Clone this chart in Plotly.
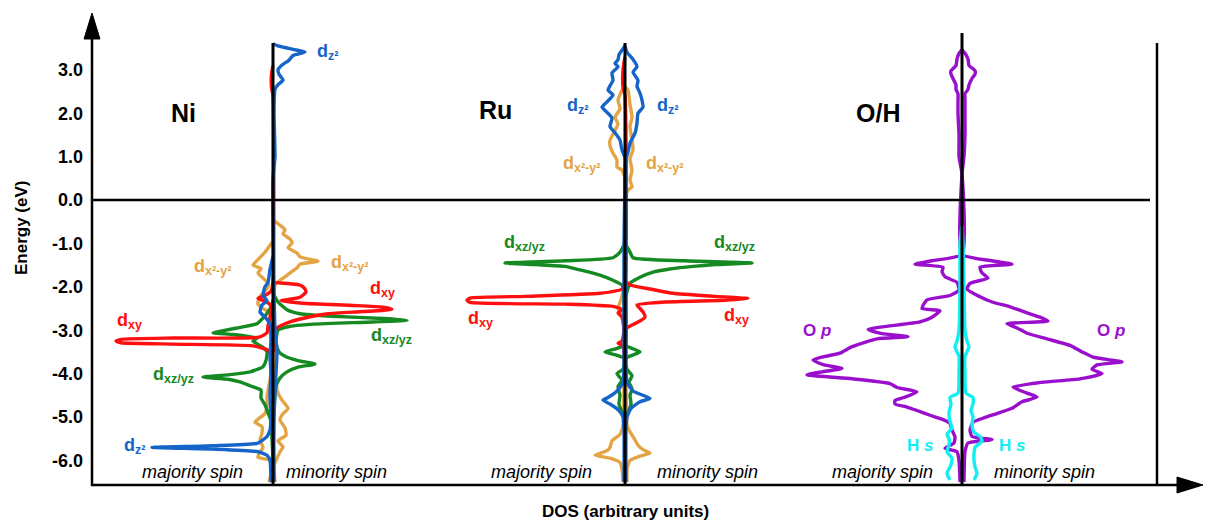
import plotly.graph_objects as go

# ---------------- data (energy in eV, DOS in arbitrary units) ----------------
# Ni d-orbitals
ni_dz2_maj_e = [-1.3, -1.6, -1.9, -2.0, -2.2, -2.32, -2.42, -2.58, -2.7, -2.85, -3.2, -3.6, -4.0, -4.5, -5.0, -5.3, -5.45, -5.6, -5.66, -5.70, -5.74, -5.80, -5.88, -6.0, -6.5]
ni_dz2_maj_d = [0, 3, 5, 8, 10, 6, 11, 13, 8, 3, 2, 3, 2, 3, 2, 3, 6, 15, 60, 121, 60, 15, 6, 3, 2]
ni_dz2_min_e = [3.6, 3.55, 3.47, 3.41, 3.33, 3.22, 3.11, 3.0, 2.9, 2.76, 2.66, 2.55, 2.0, 1.0, 0.5, -2.0, -3.0, -3.5, -4.0, -5.0, -6.5]
ni_dz2_min_d = [0, 5, 20, 32, 20, 16, 9, 5, 6, 10, 5, 2, 1, 2, 0, 1, 2, 4, 3, 1, 1]
ni_dx2_maj_e = [-0.95, -1.2, -1.35, -1.5, -1.58, -1.68, -1.8, -1.95, -2.1, -2.25, -2.4, -2.5, -2.6, -3.0, -3.5, -4.0, -4.4, -4.55, -4.75, -4.92, -5.05, -5.12, -5.22, -5.37, -5.53, -5.7, -5.85, -5.93, -6.0, -6.3, -6.5]
ni_dx2_maj_d = [0, 8, 14, 20, 12, 15, 10, 4, 8, 14, 15, 10, 3, 2, 1, 2, 5, 6, 6, 8, 15, 18, 11, 11, 13, 10, 14, 15, 3, 2, 4]
ni_dx2_min_e = [-0.46, -0.6, -0.69, -0.78, -0.9, -0.99, -1.1, -1.22, -1.31, -1.41, -1.48, -1.56, -1.68, -1.77, -1.85, -1.95, -2.1, -3.0, -4.0, -4.45, -4.61, -4.8, -4.95, -5.07, -5.25, -5.42, -5.55, -5.69, -5.8, -5.95, -6.1, -6.5]
ni_dx2_min_d = [0, 8, 12, 10, 17, 19, 15, 24, 27, 45, 27, 24, 17, 12, 7, 2, 1, 1, 2, 5, 9, 15, 9, 7, 12, 13, 5, 10, 7, 4, 1, 2]
ni_dxy_maj_e = [3.1, 2.9, 2.6, 2.4, -1.9, -2.1, -2.2, -2.27, -2.35, -2.45, -2.7, -2.9, -3.06, -3.16, -3.18, -3.21, -3.25, -3.29, -3.32, -3.36, -3.45, -3.55, -4.0, -4.5]
ni_dxy_maj_d = [0, 1.5, 1.5, 0, 0, 2, 8, 15, 6, 2, 3, 5, 6, 14, 100, 152, 157, 152, 100, 20, 6, 2, 2, 1]
ni_dxy_min_e = [-1.9, -1.96, -2.05, -2.12, -2.24, -2.32, -2.38, -2.43, -2.47, -2.52, -2.57, -2.62, -2.69, -2.81, -2.95, -3.1, -3.5]
ni_dxy_min_d = [0, 27, 32, 33, 27, 8, 30, 80, 110, 119, 90, 55, 37, 17, 4, 1, 1]
ni_dxz_maj_e = [-2.3, -2.42, -2.58, -2.72, -2.85, -2.95, -3.02, -3.06, -3.1, -3.18, -3.25, -3.38, -3.5, -3.7, -3.84, -3.96, -4.03, -4.08, -4.13, -4.19, -4.28, -4.38, -4.56, -4.72, -4.9, -5.1, -5.5, -6.0]
ni_dxz_maj_d = [0, 1, 5, 10, 16, 36, 52, 60, 40, 16, 20, 11, 6, 7, 10, 23, 45, 70, 45, 33, 23, 12, 12, 8, 5, 2, 1, 0]
ni_dxz_min_e = [-2.15, -2.35, -2.53, -2.62, -2.68, -2.73, -2.77, -2.81, -2.86, -2.92, -3.0, -3.3, -3.5, -3.6, -3.7, -3.78, -3.85, -3.96, -4.1, -4.3, -4.8, -6.0]
ni_dxz_min_d = [0, 5, 14, 27, 60, 110, 134, 100, 40, 15, 5, 3, 6, 12, 25, 42, 25, 14, 7, 3, 1, 0]

# Ru d-orbitals
ru_dz2_maj_e = [3.55, 3.35, 3.23, 3.15, 3.07, 2.93, 2.76, 2.63, 2.53, 2.42, 2.26, 2.14, 2.02, 1.89, 1.69, 1.55, 1.38, 1.15, 0.97, 0.5, -1.0, -3.0, -4.2, -4.4, -4.55, -4.61, -4.7, -4.85, -5.0, -5.3, -6.5]
ru_dz2_maj_d = [0, 6, 7, 10, 7, 13, 12, 15, 17, 12, 18, 23, 18, 13, 15, 10, 5, 3, 0, 0, 1, 1, 2, 8, 17, 22, 15, 6, 2, 1, 1]
ru_dz2_min_e = [3.55, 3.4, 3.27, 3.07, 2.95, 2.76, 2.62, 2.46, 2.3, 2.14, 2.0, 1.77, 1.54, 1.31, 1.1, 0.95, 0.5, -1.0, -3.0, -4.2, -4.4, -4.5, -4.57, -4.65, -4.8, -5.0, -5.3, -6.5]
ru_dz2_min_d = [0, 2, 7, 12, 8, 13, 12, 15, 17, 18, 13, 12, 10, 5, 3, 1, 0, 1, 1, 2, 8, 18, 25, 15, 6, 2, 1, 1]
ru_dx2_maj_e = [2.6, 2.53, 2.3, 2.1, 1.91, 1.75, 1.6, 1.38, 1.25, 1.08, 0.92, 0.76, 0.69, 0.5, 0.0, -2.0, -2.3, -2.5, -2.7, -4.0, -5.2, -5.4, -5.55, -5.7, -5.76, -5.84, -5.88, -5.95, -6.05, -6.2, -6.5]
ru_dx2_maj_d = [0, 3, 7, 5, 10, 7, 10, 15, 15, 12, 8, 8, 3, 0, 0, 1, 4, 7, 2, 1, 2, 5, 13, 15, 17, 25, 30, 15, 5, 3, 2]
ru_dx2_min_e = [2.6, 2.53, 2.2, 1.91, 1.7, 1.38, 1.15, 0.95, 0.69, 0.46, 0.3, 0.23, 0.0, -3.0, -5.2, -5.3, -5.42, -5.53, -5.65, -5.75, -5.83, -5.9, -6.0, -6.2, -6.5]
ru_dx2_min_d = [0, 3, 5, 7, 5, 7, 8, 5, 7, 5, 7, 3, 0, 1, 2, 4, 7, 10, 13, 18, 25, 15, 5, 2, 2]
ru_dxy_maj_e = [3.3, 3.0, 2.6, 2.4, -1.9, -2.05, -2.15, -2.22, -2.26, -2.31, -2.36, -2.4, -2.45, -2.52, -2.6, -2.7, -3.0, -3.25, -3.3, -3.36, -3.5, -4.0]
ru_dxy_maj_d = [0, 2, 2, 0, 0, 3, 25, 100, 155, 158, 155, 60, 12, 3, 7, 3, 1, 3, 7, 2, 1, 0]
ru_dxy_min_e = [-1.85, -1.96, -2.05, -2.15, -2.22, -2.27, -2.31, -2.35, -2.42, -2.5, -2.58, -2.7, -2.8, -2.88, -2.95, -3.1]
ru_dxy_min_d = [0, 5, 25, 48, 90, 123, 100, 40, 12, 15, 18, 20, 14, 7, 2, 0]
ru_dxz_maj_e = [-1.0, -1.2, -1.33, -1.40, -1.45, -1.49, -1.53, -1.61, -1.73, -1.85, -1.96, -2.2, -3.2, -3.34, -3.42, -3.5, -3.58, -3.66, -3.9, -4.0, -4.15, -4.3, -4.5, -4.7, -5.0]
ru_dxz_maj_d = [0, 5, 12, 60, 120, 90, 60, 45, 25, 12, 3, 1, 1, 0, 8, 20, 8, 0, 2, 8, 3, 7, 5, 6, 1]
ru_dxz_min_e = [-1.0, -1.2, -1.33, -1.40, -1.45, -1.49, -1.53, -1.59, -1.66, -1.78, -1.92, -2.2, -3.2, -3.34, -3.42, -3.5, -3.58, -3.66, -3.9, -4.05, -4.2, -4.35, -4.5, -4.7, -5.0]
ru_dxz_min_d = [0, 5, 8, 60, 127, 90, 68, 45, 28, 15, 5, 1, 1, 0, 7, 15, 7, 0, 2, 7, 4, 7, 5, 6, 1]

# O p and H s
oh_op_maj_e = [3.46, 3.38, 3.25, 3.1, 2.98, 2.9, 2.8, 2.65, 2.55, 2.45, 2.3, 2.0, 1.5, 1.0, 0.6, -1.25, -1.4, -1.48, -1.55, -1.65, -1.77, -1.9, -2.08, -2.2, -2.3, -2.5, -2.55, -2.7, -2.81, -2.98, -3.08, -3.15, -3.2, -3.38, -3.53, -3.62, -3.69, -3.8, -3.88, -3.96, -4.03, -4.12, -4.23, -4.32, -4.42, -4.55, -4.62, -4.7, -4.77, -4.85, -4.96, -5.05, -5.15, -5.3, -5.46, -5.6, -5.72, -5.8, -6.0, -6.5]
oh_op_maj_d = [0, 3, 5, 6, 11, 11, 9, 6, 6, 4, 4, 4, 3, 3, 0, 0, 30, 47, 19, 20, 17, 5, 3, 12, 35, 40, 22, 30, 42, 94, 80, 54, 85, 110, 122, 140, 149, 138, 120, 140, 155, 110, 72, 65, 45, 58, 67, 67, 55, 45, 32, 20, 12, 10, 7, 8, 17, 5, 3, 2]
oh_op_min_e = [3.46, 3.38, 3.25, 3.1, 2.98, 2.9, 2.8, 2.65, 2.55, 2.45, 2.3, 2.0, 1.5, 1.0, 0.6, -1.25, -1.4, -1.48, -1.55, -1.68, -1.8, -1.92, -2.05, -2.23, -2.35, -2.46, -2.6, -2.7, -2.79, -2.85, -2.95, -3.07, -3.2, -3.35, -3.5, -3.62, -3.73, -3.8, -3.9, -4.0, -4.12, -4.2, -4.31, -4.45, -4.54, -4.65, -4.8, -4.92, -5.02, -5.12, -5.3, -5.45, -5.52, -5.6, -5.8, -6.5]
oh_op_min_d = [0, 3, 6, 7, 13, 13, 10, 7, 6, 3, 3, 3, 3, 2, 0, 0, 30, 50, 18, 20, 26, 8, 5, 18, 30, 48, 65, 78, 86, 45, 55, 65, 85, 108, 120, 131, 160, 135, 130, 140, 118, 80, 51, 65, 75, 60, 50, 35, 22, 11, 8, 10, 30, 6, 3, 2]
oh_hs_maj_e = [-0.6, -1.0, -2.0, -3.0, -3.25, -3.38, -3.5, -3.6, -4.0, -4.45, -4.55, -4.7, -4.9, -5.1, -5.25, -5.4, -5.5, -5.65, -5.8, -5.95, -6.1, -6.3, -6.45]
oh_hs_maj_d = [0, 2, 2, 3, 5, 7, 5, 3, 3, 4, 12, 11, 13, 12, 10, 15, 13, 13, 15, 10, 11, 15, 12]
oh_hs_min_e = [-0.6, -1.0, -2.0, -3.0, -3.25, -3.38, -3.5, -3.6, -4.0, -4.45, -4.55, -4.7, -4.85, -5.0, -5.2, -5.35, -5.45, -5.55, -5.7, -5.85, -6.0, -6.15, -6.3, -6.45]
oh_hs_min_d = [0, 1, 2, 3, 5, 7, 5, 3, 3, 4, 11, 11, 9, 11, 10, 12, 18, 20, 13, 12, 12, 13, 15, 12]

energy_ticks = [3, 2, 1, 0, -1, -2, -3, -4, -5, -6]
energy_tick_labels = ["3.0", "2.0", "1.0", "0.0", "-1.0", "-2.0", "-3.0", "-4.0", "-5.0", "-6.0"]
panel_names = ["Ni", "Ru", "O/H"]
orbital_subs = {"dz2": "z²", "dx2": "x²-y²", "dxy": "xy", "dxz": "xz/yz"}

# ---------------- layout geometry ----------------
W, H = 1205, 525
ML, MR, MT, MB = 92, 0, 10, 40
PW, PH = W - ML - MR, H - MT - MB
PX_PER_EV = 43.4
Y0_PX = 200  # pixel row of E = 0


def X(px):
    return px - ML


def Y(py):
    return (Y0_PX - py) / PX_PER_EV


def XP(px):
    return (px - ML) / PW


def YP(py):
    return 1 - (py - MT) / PH


centers = {"Ni": X(273), "Ru": X(625), "O/H": X(962)}

BLUE = "#1565c8"
ORANGE = "#e3a444"
RED = "#ff1010"
GREEN = "#168a22"
PURPLE = "#9a0fcc"
CYAN = "#10eef2"
FONT = "Liberation Sans, Arial, sans-serif"

fig = go.Figure()


def add(center, e, d, color, side, width=3.4):
    xs = [center + side * v for v in d]
    fig.add_trace(go.Scatter(x=xs, y=e, mode="lines",
                             line=dict(color=color, width=width, shape="spline", smoothing=0.5),
                             hoverinfo="skip", showlegend=False))


c = centers["Ni"]
add(c, ni_dx2_maj_e, ni_dx2_maj_d, ORANGE, -1)
add(c, ni_dx2_min_e, ni_dx2_min_d, ORANGE, 1)
add(c, ni_dxz_maj_e, ni_dxz_maj_d, GREEN, -1)
add(c, ni_dxz_min_e, ni_dxz_min_d, GREEN, 1)
add(c, ni_dxy_maj_e, ni_dxy_maj_d, RED, -1)
add(c, ni_dxy_min_e, ni_dxy_min_d, RED, 1)
add(c, ni_dz2_maj_e, ni_dz2_maj_d, BLUE, -1)
add(c, ni_dz2_min_e, ni_dz2_min_d, BLUE, 1)

c = centers["Ru"]
add(c, ru_dx2_maj_e, ru_dx2_maj_d, ORANGE, -1)
add(c, ru_dx2_min_e, ru_dx2_min_d, ORANGE, 1)
add(c, ru_dxz_maj_e, ru_dxz_maj_d, GREEN, -1)
add(c, ru_dxz_min_e, ru_dxz_min_d, GREEN, 1)
add(c, ru_dxy_maj_e, ru_dxy_maj_d, RED, -1)
add(c, ru_dxy_min_e, ru_dxy_min_d, RED, 1)
add(c, ru_dz2_maj_e, ru_dz2_maj_d, BLUE, -1)
add(c, ru_dz2_min_e, ru_dz2_min_d, BLUE, 1)

c = centers["O/H"]
add(c, oh_op_maj_e, oh_op_maj_d, PURPLE, -1)
add(c, oh_op_min_e, oh_op_min_d, PURPLE, 1)
add(c, oh_hs_maj_e, oh_hs_maj_d, CYAN, -1)
add(c, oh_hs_min_e, oh_hs_min_d, CYAN, 1)

shapes = []
# axes (paper coordinates so they are not clipped)
shapes.append(dict(type="line", xref="paper", yref="paper", x0=XP(92), x1=XP(92), y0=YP(486), y1=YP(34),
                   line=dict(color="black", width=2.5)))
shapes.append(dict(type="path", xref="paper", yref="paper",
                   path=f"M {XP(92)} {YP(13)} L {XP(84)} {YP(39)} L {XP(100)} {YP(39)} Z",
                   fillcolor="black", line=dict(color="black", width=1)))
shapes.append(dict(type="line", xref="paper", yref="paper", x0=XP(91), x1=XP(1182), y0=YP(485), y1=YP(485),
                   line=dict(color="black", width=2.5)))
shapes.append(dict(type="path", xref="paper", yref="paper",
                   path=f"M {XP(1203)} {YP(485)} L {XP(1177)} {YP(477)} L {XP(1177)} {YP(493)} Z",
                   fillcolor="black", line=dict(color="black", width=1)))
# Fermi level line and right frame line
shapes.append(dict(type="line", xref="x", yref="y", x0=X(92), x1=X(1150), y0=0, y1=0,
                   line=dict(color="black", width=2.5), layer="above"))
shapes.append(dict(type="line", xref="x", yref="y", x0=X(1157), x1=X(1157), y0=Y(43), y1=Y(485),
                   line=dict(color="black", width=2.5), layer="above"))
# spin-dividing centre lines
for name, top in zip(panel_names, [43, 43, 33]):
    shapes.append(dict(type="line", xref="x", yref="y", x0=centers[name], x1=centers[name],
                       y0=Y(top), y1=Y(485), line=dict(color="black", width=3), layer="above"))

ann = []


def text(px, py, s, size, color="black", bold=True, italic=False, angle=0, xanchor="center"):
    s2 = s
    if italic:
        s2 = f"<i>{s2}</i>"
    if bold:
        s2 = f"<b>{s2}</b>"
    ann.append(dict(xref="paper", yref="paper", x=XP(px), y=YP(py), text=s2, showarrow=False,
                    font=dict(family=FONT, size=size, color=color), textangle=angle,
                    xanchor=xanchor, yanchor="middle"))


def orbital(px_left, py, key, color):
    """d with a bold subscript; px_left = left edge of the 'd', py = middle of the 'd'."""
    text(px_left - 1, py, "d", 18, color, xanchor="left")
    text(px_left + 10, py + 5, orbital_subs[key], 12.5, color, xanchor="left")


text(183, 113, panel_names[0], 25)
text(495, 110, panel_names[1], 25)
text(878, 113, panel_names[2], 25)

orbital(316, 51, "dz2", BLUE)
orbital(193, 266, "dx2", ORANGE)
orbital(330, 262, "dx2", ORANGE)
orbital(369, 288, "dxy", RED)
orbital(116, 320, "dxy", RED)
orbital(370, 335, "dxz", GREEN)
orbital(152, 374, "dxz", GREEN)
orbital(123, 445, "dz2", BLUE)

orbital(566, 105, "dz2", BLUE)
orbital(656, 105, "dz2", BLUE)
orbital(562, 163, "dx2", ORANGE)
orbital(645, 163, "dx2", ORANGE)
orbital(503, 242, "dxz", GREEN)
orbital(713, 242, "dxz", GREEN)
orbital(467, 318, "dxy", RED)
orbital(723, 315, "dxy", RED)

text(817, 330, "O <i>p</i>", 17, PURPLE)
text(1111, 330, "O <i>p</i>", 17, PURPLE)
text(920, 445, "H <i>s</i>", 17, CYAN)
text(1012, 445, "H <i>s</i>", 17, CYAN)

for mx, nx in [(192, 336), (541, 707), (882, 1044)]:
    text(mx, 472, "majority spin", 18, bold=False, italic=True)
    text(nx, 472, "minority spin", 18, bold=False, italic=True)

text(22, 228, "Energy (eV)", 17, angle=-90)
text(625, 512, "DOS (arbitrary units)", 17)

fig.update_layout(
    width=W, height=H,
    margin=dict(l=ML, r=MR, t=MT, b=MB),
    paper_bgcolor="white", plot_bgcolor="white",
    shapes=shapes, annotations=ann, showlegend=False,
    xaxis=dict(range=[X(92), X(1205)], showgrid=False, zeroline=False, showline=False,
               showticklabels=False, ticks="", fixedrange=True),
    yaxis=dict(range=[Y(485), Y(10)], showgrid=False, zeroline=False, showline=False,
               tickvals=energy_ticks, ticktext=[f"<b>{t}</b>" for t in energy_tick_labels],
               tickfont=dict(family=FONT, size=18, color="black"), ticks="",
               ticklabelstandoff=8, fixedrange=True),
)

fig.write_html("out.html", config={"displayModeBar": False},
               post_script="document.body.style.margin='0';")
